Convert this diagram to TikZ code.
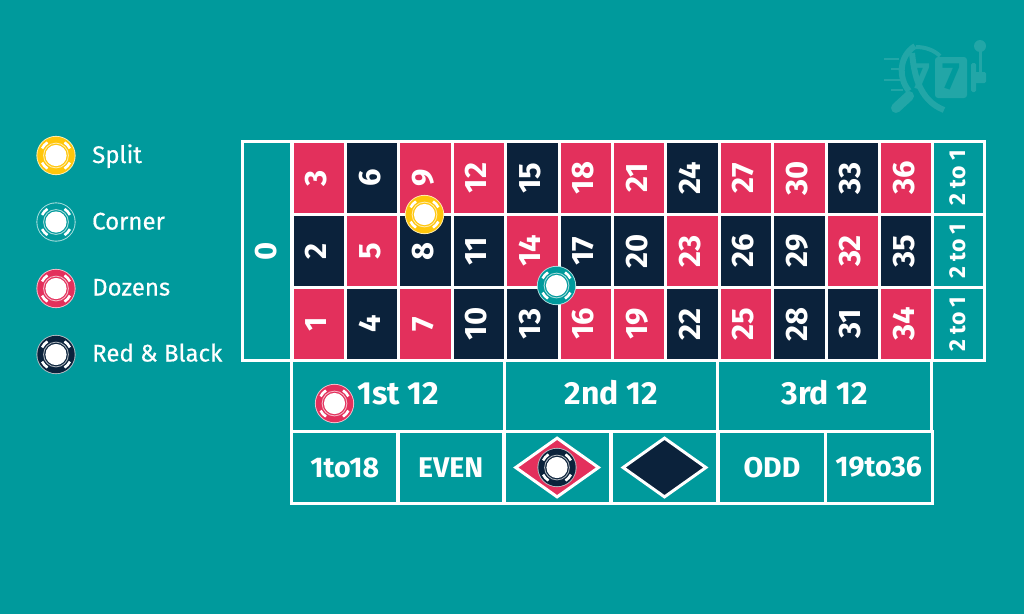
\documentclass[tikz,border=0pt]{standalone}
\usepackage{fontspec}
\setmainfont{Fira Sans}
\newfontfamily\legendfont[FakeBold=0.5]{Fira Sans}
\usetikzlibrary{shapes.geometric}
\definecolor{felt}{HTML}{009A9C}
\definecolor{feltlight}{HTML}{22A6A7}
\definecolor{redcell}{HTML}{E3305C}
\definecolor{navycell}{HTML}{0B223B}
\definecolor{chipyellow}{HTML}{FFC60B}
\tikzset{
  numcell/.style={draw=white, line width=3pt, minimum width=73pt, minimum height=53.4pt, inner sep=0pt, text=white, text height=22pt, text depth=6pt, font=\fontsize{31}{31}\selectfont\bfseries},
  redbox/.style={numcell, fill=redcell},
  blackbox/.style={numcell, fill=navycell},
  greenbox/.style={draw=white, line width=3pt, inner sep=0pt, text=white},
  sidebox/.style={greenbox, minimum width=73pt, minimum height=52.6pt, text height=16pt, text depth=2pt, font=\fontsize{23}{23}\selectfont\bfseries},
  dozenbox/.style={greenbox, minimum width=213.6pt, minimum height=71pt, text height=22pt, text depth=6pt, font=\fontsize{32}{32}\selectfont\bfseries},
  evenbox/.style={greenbox, minimum width=106.8pt, minimum height=72pt, font=\fontsize{28.5}{28.5}\selectfont\bfseries},
  rhomb/.style={diamond, draw=white, line width=3pt, minimum width=84pt, minimum height=60pt, inner sep=0pt, aspect=1.4},
  legendtext/.style={text=white, anchor=base west, inner sep=0pt, font=\fontsize{24}{24}\selectfont\legendfont},
  chip/.pic={
    \fill[white!70!#1] (0,0) circle (19.6);
    \fill[#1] (0,0) circle (18.7);
    \draw[white!65!#1, line width=0.9pt] (0,0) circle (12.4);
    \fill[white] (0,0) circle (10.6);
    \foreach \ang in {42,138,222,318}
      \draw[white, line width=2.6pt] (\ang-15:15.6) arc[start angle=\ang-15, end angle=\ang+15, radius=15.6];
  }
}
\begin{document}
\begin{tikzpicture}[x=1pt, y=-1pt]
  \useasboundingbox (0,0) rectangle (1024,614);
  \fill[felt] (0,0) rectangle (1024,614);

  % Logo in the corner
  \begin{scope}[feltlight]
    \fill (980,46) circle (6);
    \fill (978.5,50) rectangle (981.5,73);
    \fill[rounded corners=1.5pt] (971,63) rectangle (976,92);
    \fill[rounded corners=1.5pt] (974,72) rectangle (986,83);
    \fill[rounded corners=3pt] (935,57) rectangle (967,98);
    \draw[line width=6pt] (915,46) .. controls (899,56) and (898,78) .. (909,91);
    \draw[line width=6pt] (912,53) .. controls (914,72) and (918,100) .. (944,110);
    \draw[line width=4pt] (916,47) .. controls (925,47) and (934,50) .. (940,56);
    \draw[line width=10pt, line cap=round] (896,108) -- (909,96);
    \draw[line width=2.5pt] (884,59) -- (899,59);
    \draw[line width=2.5pt] (891,69) -- (901,69);
    \draw[line width=2.5pt] (884,80) -- (900,80);
    \draw[line width=2.5pt] (891,90) -- (903,90);
    \node[font=\fontsize{38}{38}\selectfont\bfseries, text=felt, inner sep=0pt] (sevenbox) at (951,77) {7};
    \node[font=\fontsize{38}{38}\selectfont\bfseries, text=feltlight, inner sep=0pt] (sevenwheel) at (921,77) {7};
  \end{scope}

  % Define the nodes
  \node[sidebox, minimum width=219pt, minimum height=49.4pt, text height=22pt, text depth=4pt, font=\fontsize{31}{31}\selectfont\bfseries, rotate=90] (zero) at (267,251) {0};

  \node[redbox, rotate=90] (n3) at (318.7,178) {3};
  \node[blackbox, rotate=90] (n6) at (372.1,178) {6};
  \node[redbox, rotate=90] (n9) at (425.5,178) {9};
  \node[redbox, rotate=90] (n12) at (478.9,178) {12};
  \node[blackbox, rotate=90] (n15) at (532.3,178) {15};
  \node[redbox, rotate=90] (n18) at (585.7,178) {18};
  \node[redbox, rotate=90] (n21) at (639.1,178) {21};
  \node[blackbox, rotate=90] (n24) at (692.5,178) {24};
  \node[redbox, rotate=90] (n27) at (745.9,178) {27};
  \node[redbox, rotate=90] (n30) at (799.3,178) {30};
  \node[blackbox, rotate=90] (n33) at (852.7,178) {33};
  \node[redbox, rotate=90] (n36) at (906.1,178) {36};

  \node[blackbox, rotate=90] (n2) at (318.7,251) {2};
  \node[redbox, rotate=90] (n5) at (372.1,251) {5};
  \node[blackbox, rotate=90] (n8) at (425.5,251) {8};
  \node[blackbox, rotate=90] (n11) at (478.9,251) {11};
  \node[redbox, rotate=90] (n14) at (532.3,251) {14};
  \node[blackbox, rotate=90] (n17) at (585.7,251) {17};
  \node[blackbox, rotate=90] (n20) at (639.1,251) {20};
  \node[redbox, rotate=90] (n23) at (692.5,251) {23};
  \node[blackbox, rotate=90] (n26) at (745.9,251) {26};
  \node[blackbox, rotate=90] (n29) at (799.3,251) {29};
  \node[redbox, rotate=90] (n32) at (852.7,251) {32};
  \node[blackbox, rotate=90] (n35) at (906.1,251) {35};

  \node[redbox, rotate=90] (n1) at (318.7,324) {1};
  \node[blackbox, rotate=90] (n4) at (372.1,324) {4};
  \node[redbox, rotate=90] (n7) at (425.5,324) {7};
  \node[blackbox, rotate=90] (n10) at (478.9,324) {10};
  \node[blackbox, rotate=90] (n13) at (532.3,324) {13};
  \node[redbox, rotate=90] (n16) at (585.7,324) {16};
  \node[redbox, rotate=90] (n19) at (639.1,324) {19};
  \node[blackbox, rotate=90] (n22) at (692.5,324) {22};
  \node[redbox, rotate=90] (n25) at (745.9,324) {25};
  \node[blackbox, rotate=90] (n28) at (799.3,324) {28};
  \node[blackbox, rotate=90] (n31) at (852.7,324) {31};
  \node[redbox, rotate=90] (n34) at (906.1,324) {34};

  \node[sidebox, rotate=90] (side1) at (958.5,178) {2 to 1};
  \node[sidebox, rotate=90] (side2) at (958.5,251) {2 to 1};
  \node[sidebox, rotate=90] (side3) at (958.5,324) {2 to 1};

  \node[dozenbox] (dozen1) at (398.1,396) {1st 12};
  \node[dozenbox] (dozen2) at (611.1,396) {2nd 12};
  \node[dozenbox] (dozen3) at (824.7,396) {3rd 12};

  \node[evenbox] (low) at (344.7,467.5) {1to18};
  \node[evenbox] (even) at (450.7,467.5) {EVEN};
  \node[evenbox] (redbet) at (557.1,467.5) {};
  \node[evenbox] (blackbet) at (664.5,467.5) {};
  \node[evenbox] (odd) at (771.9,467.5) {ODD};
  \node[evenbox] (high) at (878.7,467.5) {19to36};

  \node[rhomb, fill=redcell] (reddiamond) at (redbet) {};
  \node[rhomb, fill=navycell] (blackdiamond) at (blackbet) {};

  % Legend
  \node[legendtext] (split) at (92,163) {Split};
  \node[legendtext] (corner) at (92,229.5) {Corner};
  \node[legendtext] (dozens) at (92,295.5) {Dozens};
  \node[legendtext] (redblack) at (92,361.5) {Red \& Black};

  % Chips
  \pic at (56,155.5) {chip=chipyellow};
  \pic at (56,222) {chip=felt};
  \pic at (56,288.5) {chip=redcell};
  \pic at (56,354.5) {chip=navycell};
  \pic at (424.5,214.5) {chip=chipyellow};
  \pic at (556.5,285.5) {chip=felt};
  \pic at (334.5,403.5) {chip=redcell};
  \pic at (557,467.5) {chip=navycell};
\end{tikzpicture}
\end{document}
